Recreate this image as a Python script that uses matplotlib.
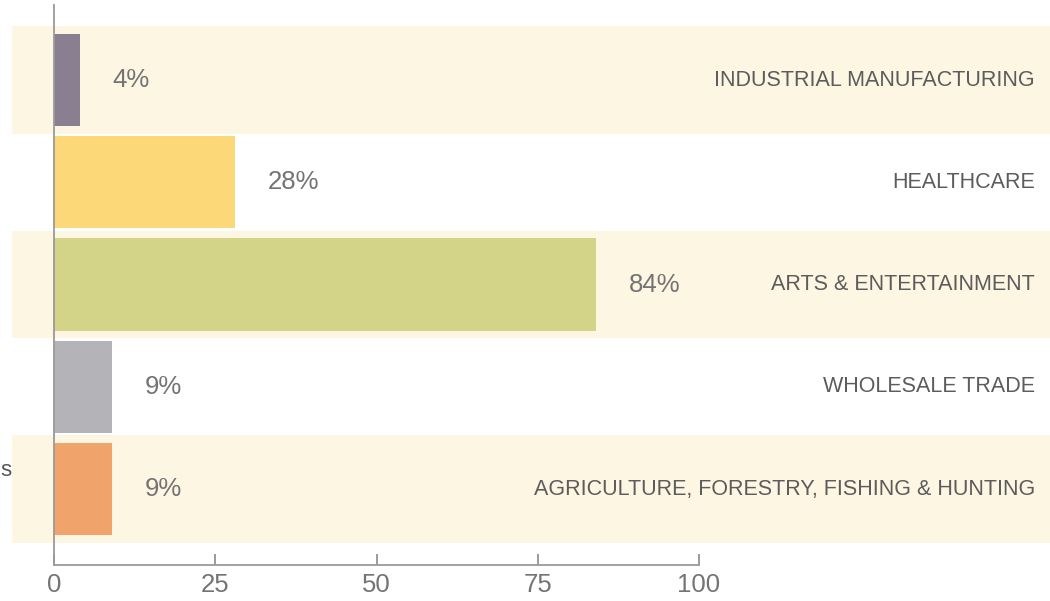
import matplotlib
matplotlib.use("Agg")
import matplotlib.pyplot as plt

categories = ["INDUSTRIAL MANUFACTURING", "HEALTHCARE", "ARTS & ENTERTAINMENT",
              "WHOLESALE TRADE", "AGRICULTURE, FORESTRY, FISHING & HUNTING"]
values = [4, 28, 84, 9, 9]
bar_colors = ["#8a7f90", "#fdd878", "#d3d487", "#b4b4b8", "#f0a46c"]
x_ticks = [0, 25, 50, 75, 100]

W, H = 1050, 601
fig = plt.figure(figsize=(W / 100, H / 100), dpi=100)
ax = fig.add_axes([0, 0, 1, 1])

# pixel scale: x=0 at 54px, x=100 at 699px; rows 102.25px apart, first at 80px
px_per_unit = 6.45
x0_px = 54
ax.set_xlim(-x0_px / px_per_unit, (W - x0_px) / px_per_unit)
row_px = 102.25
top_px = 80
ax.set_ylim((H - top_px) / row_px, -top_px / row_px)

# alternating cream bands behind every other row
band_left = (12 - x0_px) / px_per_unit
xmax = ax.get_xlim()[1]
for i in range(len(categories)):
    if i % 2 == 0:
        ax.fill_between([band_left, xmax], i - 0.525, i + 0.525,
                        color="#fdf6e2", lw=0, zorder=0)

ax.barh(range(len(values)), values, height=0.9, color=bar_colors, zorder=2)

for i, (v, c) in enumerate(zip(values, categories)):
    ax.text(v + 5.1, i, f"{v}%", va="center", ha="left", fontsize=18.5,
            color="#747474", family="Liberation Sans", zorder=3)
    ax.text((1035 - x0_px) / px_per_unit, i, c, va="center", ha="right",
            fontsize=15.5, color="#5c5c5c", family="Liberation Sans", zorder=3)

bottom_y = (565 - top_px) / row_px
for side in ["top", "right"]:
    ax.spines[side].set_visible(False)
ax.spines["left"].set_position(("data", 0))
ax.spines["left"].set_bounds(-0.73, bottom_y)
ax.spines["bottom"].set_position(("data", bottom_y))
ax.spines["bottom"].set_bounds(0, 100)
for side in ["left", "bottom"]:
    ax.spines[side].set_color("#9a9a9a")
    ax.spines[side].set_linewidth(1.3)
    ax.spines[side].set_zorder(4)

ax.set_yticks([])
ax.set_xticks(x_ticks)
ax.set_xticklabels([str(t) for t in x_ticks])
ax.tick_params(axis="x", direction="in", length=8, width=1.2, color="#8a8a8a",
               labelsize=18.5, labelcolor="#747474", pad=6)
for lab in ax.get_xticklabels():
    lab.set_family("Liberation Sans")
ax.patch.set_alpha(0)

fig.text(0.5 / W, 1 - 470 / H, "s", ha="left", va="center", fontsize=16,
         color="#555555", family="Liberation Sans")

fig.savefig("out.png", dpi=100, facecolor="white")
